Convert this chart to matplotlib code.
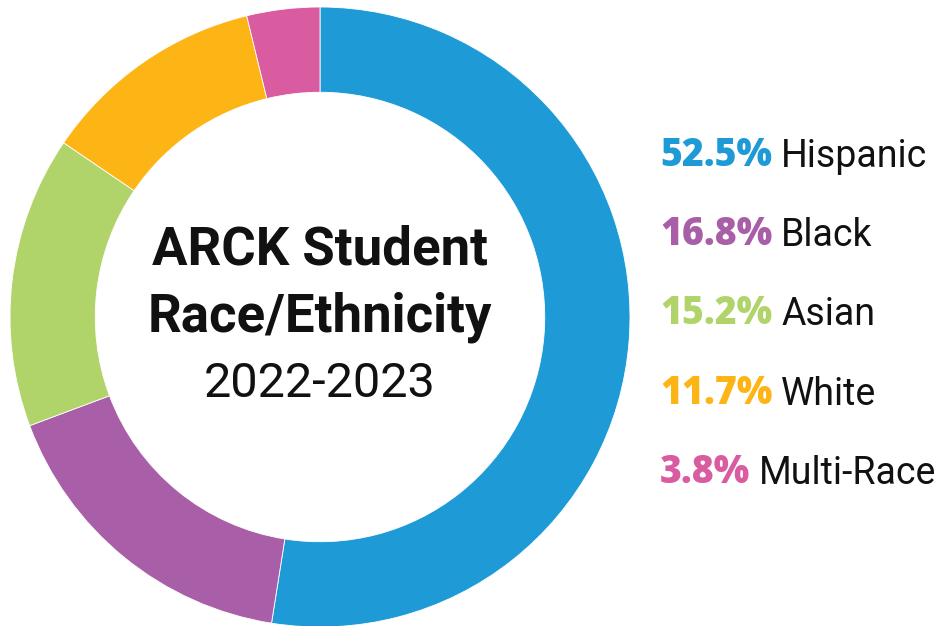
import matplotlib
matplotlib.use("Agg")
import matplotlib.pyplot as plt

categories = ["Hispanic", "Black", "Asian", "White", "Multi-Race"]
values = [52.5, 16.8, 15.2, 11.7, 3.8]
pct_labels = ["52.5%", "16.8%", "15.2%", "11.7%", "3.8%"]
colors = ["#1E9BD7", "#A85FA8", "#B1D46A", "#FDB515", "#D95BA0"]

W, H = 940, 626
fig = plt.figure(figsize=(W / 100, H / 100), dpi=100)
fig.patch.set_facecolor("white")

cx, cy, R = 320, 317, 310
ax = fig.add_axes([(cx - R) / W, (H - cy - R) / H, 2 * R / W, 2 * R / H])
ax.pie(values, colors=colors, startangle=90, counterclock=False, radius=1,
       wedgeprops=dict(width=0.275, edgecolor="white", linewidth=0.6))
ax.set_xlim(-1, 1)
ax.set_ylim(-1, 1)
ax.set_aspect("equal")
ax.axis("off")

# Center title
ax.text(0, 0.215, "ARCK Student", ha="center", va="center", fontsize=38,
        fontweight="bold", family="Roboto", color="#111111")
ax.text(0, 0.0, "Race/Ethnicity", ha="center", va="center", fontsize=38,
        fontweight="bold", family="Roboto", color="#111111")
ax.text(0, -0.215, "2022-2023", ha="center", va="center", fontsize=35,
        family="Roboto", color="#111111")

# Legend
x0 = 660
base_y = 166
step = 79.2
for i, (p, lab, col) in enumerate(zip(pct_labels, categories, colors)):
    y = base_y + i * step
    t = fig.text(x0 / W, 1 - y / H, p, ha="left", va="baseline", fontsize=27,
                 fontweight="heavy", family="Open Sans", color=col)
    plt.annotate(lab, xy=(1, 0), xycoords=t, xytext=(9, 0),
                 textcoords="offset pixels", ha="left", va="bottom",
                 fontsize=27, family="Roboto", color="#111111",
                 annotation_clip=False)

fig.savefig("out.png", dpi=100, facecolor="white")
